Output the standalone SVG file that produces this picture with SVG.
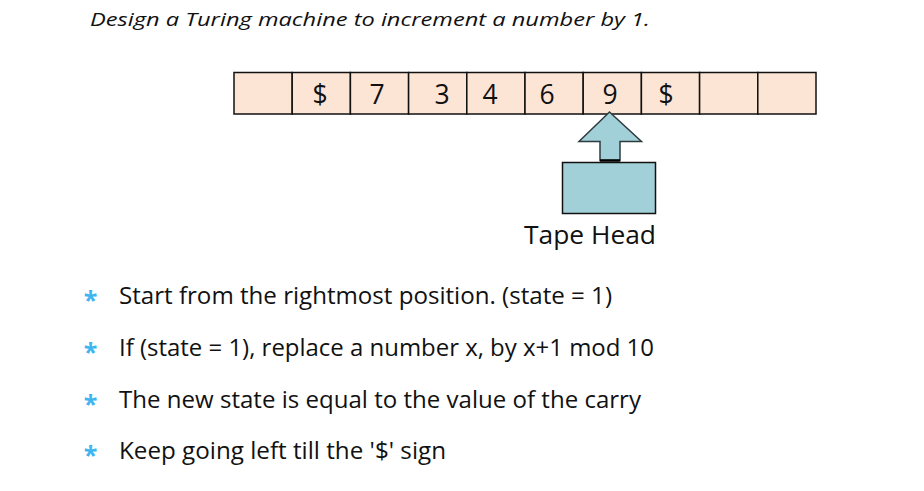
<svg xmlns="http://www.w3.org/2000/svg" width="924" height="491" viewBox="0 0 924 491">
<style>
.cell{fill:#FDE5D6;stroke:#111;stroke-width:1.5}
.sym{font-family:"Open Sans","Liberation Sans",sans-serif;font-size:26.5px;fill:#111;text-anchor:middle}
.bul{font-family:"Open Sans","Liberation Sans",sans-serif;font-size:24px;fill:#111}
.star{font-family:"Open Sans","Liberation Sans",sans-serif;font-size:25px;fill:#3DB5EF;text-anchor:middle;font-weight:bold}
</style>
<rect width="924" height="491" fill="#fff"/>
<text x="90" y="26" font-family="'Open Sans','Liberation Sans',sans-serif" font-style="italic" font-size="19" fill="#111" textLength="560" lengthAdjust="spacingAndGlyphs">Design a Turing machine to increment a number by 1.</text>
<g id="tape">
<rect class="cell" x="234" y="72.5" width="58.2" height="41.5"/>
<rect class="cell" x="292.2" y="72.5" width="58.2" height="41.5"/>
<rect class="cell" x="350.4" y="72.5" width="58.2" height="41.5"/>
<rect class="cell" x="408.6" y="72.5" width="58.2" height="41.5"/>
<rect class="cell" x="466.8" y="72.5" width="58.2" height="41.5"/>
<rect class="cell" x="525" y="72.5" width="58.2" height="41.5"/>
<rect class="cell" x="583.2" y="72.5" width="58.2" height="41.5"/>
<rect class="cell" x="641.4" y="72.5" width="58.2" height="41.5"/>
<rect class="cell" x="699.6" y="72.5" width="58.2" height="41.5"/>
<rect class="cell" x="757.8" y="72.5" width="58.2" height="41.5"/>
<text class="sym" x="320" y="103.5">$</text>
<text class="sym" x="377" y="103.5">7</text>
<text class="sym" x="442" y="103.5">3</text>
<text class="sym" x="490" y="103.5">4</text>
<text class="sym" x="547" y="103.5">6</text>
<text class="sym" x="610" y="103.5">9</text>
<text class="sym" x="666" y="103.5">$</text>
</g>
<g id="tape-head">
<polygon points="609.5,112 641.5,141.5 620,141.5 620,160.5 600,160.5 600,141.5 579,141.5" fill="#A2D0D8" stroke="#2f3b3e" stroke-width="1.5" stroke-linejoin="miter"/>
<line x1="600" y1="160.5" x2="620" y2="160.5" stroke="#000" stroke-width="2.5"/>
<rect x="562.5" y="162.5" width="93" height="51" fill="#A2D0D8" stroke="#111" stroke-width="1.5"/>
<text x="524" y="243.5" font-family="'Open Sans','Liberation Sans',sans-serif" font-size="24.8" fill="#111" textLength="132" lengthAdjust="spacingAndGlyphs">Tape Head</text>
</g>
<g id="bullets">
<text class="star" x="90.5" y="309">*</text>
<text class="star" x="90.5" y="361">*</text>
<text class="star" x="90.5" y="412.5">*</text>
<text class="star" x="90.5" y="464">*</text>
<text class="bul" x="119" y="304" textLength="493" lengthAdjust="spacingAndGlyphs">Start from the rightmost position. (state = 1)</text>
<text class="bul" x="119" y="356" textLength="535" lengthAdjust="spacingAndGlyphs">If (state = 1), replace a number x, by x+1 mod 10</text>
<text class="bul" x="119" y="407.5" textLength="522" lengthAdjust="spacingAndGlyphs">The new state is equal to the value of the carry</text>
<text class="bul" x="119" y="459" textLength="327" lengthAdjust="spacingAndGlyphs">Keep going left till the '$' sign</text>
</g>
</svg>
